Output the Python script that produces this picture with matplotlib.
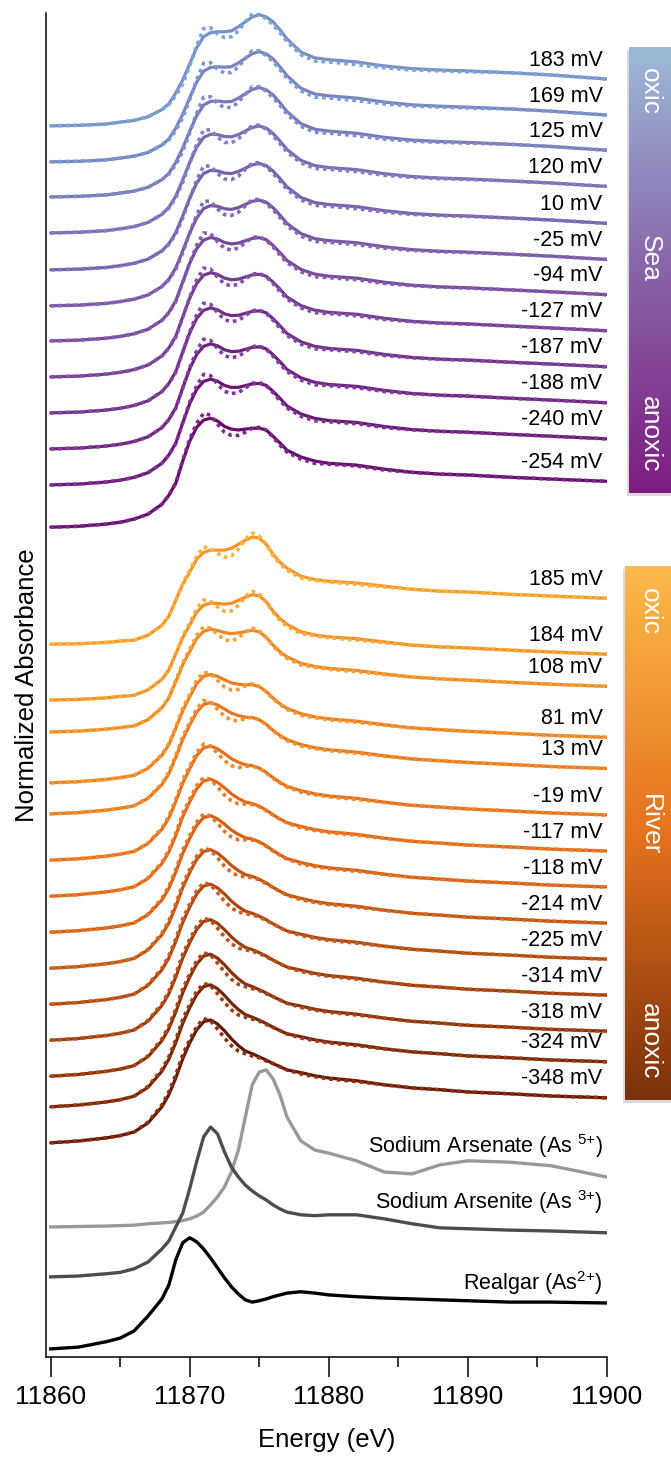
import numpy as np
import matplotlib
matplotlib.use('Agg')
import matplotlib.pyplot as plt
from matplotlib.colors import LinearSegmentedColormap
from matplotlib.patches import Rectangle

plt.rcParams['font.family'] = ['Liberation Sans', 'DejaVu Sans']
plt.rcParams['mathtext.default'] = 'regular'

# energy grid (eV)
energy = [11860, 11862, 11864, 11865, 11866, 11867, 11868, 11868.5, 11869, 11869.5,
          11870, 11870.5, 11871, 11871.5, 11872, 11872.5, 11873, 11873.5, 11874, 11874.5,
          11875, 11875.5, 11876, 11876.5, 11877, 11878, 11879, 11880, 11882, 11884,
          11886, 11888, 11890, 11893, 11896, 11900]

# sea end members (most oxic / most anoxic sample), data and LCF fit
sea_ox = [0, 0.01, 0.04, 0.08, 0.12, 0.20, 0.36, 0.49, 0.73, 1.02,
          1.38, 1.73, 1.98, 2.07, 2.09, 2.09, 2.11, 2.20, 2.31, 2.42,
          2.47, 2.42, 2.31, 2.13, 1.93, 1.64, 1.51, 1.47, 1.42, 1.33,
          1.27, 1.24, 1.22, 1.18, 1.13, 1.04]
sea_ox_fit = [0, 0.01, 0.04, 0.08, 0.12, 0.20, 0.36, 0.47, 0.67, 0.93,
              1.33, 1.78, 2.16, 2.18, 2.04, 1.96, 1.98, 2.11, 2.31, 2.49,
              2.49, 2.38, 2.24, 2.07, 1.87, 1.58, 1.44, 1.42, 1.36, 1.29,
              1.24, 1.22, 1.20, 1.18, 1.13, 1.04]
sea_red = [0, 0.02, 0.07, 0.11, 0.18, 0.29, 0.51, 0.71, 0.98, 1.47,
           1.91, 2.22, 2.38, 2.42, 2.36, 2.24, 2.18, 2.16, 2.18, 2.20,
           2.20, 2.16, 2.02, 1.87, 1.71, 1.56, 1.47, 1.42, 1.38, 1.29,
           1.22, 1.18, 1.16, 1.11, 1.07, 1.02]
sea_red_fit = [0, 0.02, 0.07, 0.11, 0.18, 0.29, 0.51, 0.71, 0.98, 1.49,
               1.96, 2.31, 2.53, 2.49, 2.29, 2.11, 2.04, 2.04, 2.11, 2.20,
               2.22, 2.16, 2.00, 1.82, 1.67, 1.51, 1.42, 1.40, 1.36, 1.27,
               1.22, 1.18, 1.16, 1.11, 1.07, 1.02]

# river end members
riv_ox = [0, 0.01, 0.04, 0.07, 0.09, 0.20, 0.42, 0.62, 0.98, 1.33,
          1.60, 1.89, 2.04, 2.09, 2.09, 2.09, 2.13, 2.22, 2.31, 2.38,
          2.36, 2.22, 2.00, 1.82, 1.69, 1.51, 1.44, 1.40, 1.36, 1.29,
          1.22, 1.18, 1.16, 1.11, 1.07, 1.02]
riv_ox_fit = [0, 0.01, 0.04, 0.07, 0.09, 0.20, 0.42, 0.62, 0.98, 1.36,
              1.64, 1.96, 2.16, 2.13, 2.02, 1.93, 1.96, 2.11, 2.33, 2.47,
              2.40, 2.22, 1.96, 1.78, 1.64, 1.47, 1.42, 1.38, 1.33, 1.27,
              1.22, 1.18, 1.16, 1.11, 1.07, 1.02]
riv_red = [0, 0.04, 0.11, 0.16, 0.24, 0.44, 0.80, 1.07, 1.44, 1.87,
           2.22, 2.51, 2.69, 2.73, 2.64, 2.49, 2.31, 2.16, 2.04, 1.98,
           1.91, 1.84, 1.76, 1.69, 1.62, 1.56, 1.49, 1.44, 1.38, 1.29,
           1.22, 1.18, 1.13, 1.09, 1.04, 1.00]
riv_red_fit = [0, 0.04, 0.11, 0.16, 0.24, 0.46, 0.84, 1.13, 1.51, 1.96,
               2.29, 2.58, 2.76, 2.71, 2.53, 2.33, 2.16, 2.04, 1.98, 1.93,
               1.89, 1.82, 1.76, 1.69, 1.62, 1.53, 1.47, 1.42, 1.36, 1.29,
               1.22, 1.18, 1.13, 1.09, 1.04, 1.00]

# reference standards
arsenate = [0, 0.01, 0.02, 0.03, 0.04, 0.07, 0.09, 0.10, 0.12, 0.14,
            0.18, 0.24, 0.33, 0.49, 0.67, 0.89, 1.22, 1.71, 2.44, 3.16,
            3.44, 3.49, 3.29, 2.93, 2.44, 1.91, 1.71, 1.64, 1.47, 1.22,
            1.18, 1.38, 1.47, 1.44, 1.36, 1.11]
arsenite = [0, 0.02, 0.07, 0.10, 0.18, 0.33, 0.62, 0.80, 1.11, 1.42,
            1.96, 2.56, 3.11, 3.33, 3.18, 2.78, 2.44, 2.22, 2.04, 1.91,
            1.80, 1.71, 1.60, 1.51, 1.44, 1.38, 1.36, 1.38, 1.38, 1.29,
            1.18, 1.09, 1.07, 1.04, 1.02, 0.98]
realgar = [0, 0.04, 0.16, 0.24, 0.40, 0.73, 1.11, 1.42, 1.98, 2.36,
           2.47, 2.38, 2.22, 2.02, 1.80, 1.58, 1.38, 1.22, 1.09, 1.04,
           1.07, 1.11, 1.16, 1.20, 1.24, 1.27, 1.24, 1.20, 1.16, 1.13,
           1.11, 1.09, 1.07, 1.04, 1.04, 1.02]

# samples: Eh labels and reduced fraction (0 = like most oxic, 1 = like most anoxic)
sea_eh = ['183 mV', '169 mV', '125 mV', '120 mV', '10 mV', '-25 mV', '-94 mV',
          '-127 mV', '-187 mV', '-188 mV', '-240 mV', '-254 mV']
sea_frac = [0, 0.08, 0.15, 0.35, 0.4, 0.45, 0.65, 0.7, 0.75, 0.75, 0.8, 1.0]
riv_eh = ['185 mV', '184 mV', '108 mV', '81 mV', '13 mV', '-19 mV', '-117 mV',
          '-118 mV', '-214 mV', '-225 mV', '-314 mV', '-318 mV', '-324 mV', '-348 mV']
riv_frac = [0, 0.1, 0.3, 0.5, 0.6, 0.7, 0.8, 0.78, 0.85, 0.9, 0.92, 0.97, 0.97, 1.0]

ref_names = ['Sodium Arsenate (As $^{5{+}}$)', 'Sodium Arsenite (As $^{3{+}}$)',
             'Realgar (As$^{2{+}}$)']

# vertical stacking offsets
sea_off = [27.36, 26.56, 25.78, 24.98, 24.16, 23.36, 22.58, 21.78, 20.98, 20.18, 19.38, 18.44]
riv_off = [15.84, 14.60, 13.89, 12.76, 12.07, 11.04, 10.24, 9.44, 8.64, 7.84, 7.04, 6.24, 5.56, 4.76]
ref_off = [2.89, 1.78, 0.18]

sea_cm = LinearSegmentedColormap.from_list('sea', ['#7b8fc5', '#7a4f9f', '#650a6a'])
sea_cm_fit = LinearSegmentedColormap.from_list('seaf', ['#78a6d6', '#8462b2', '#7b2a8c'])
riv_cm = LinearSegmentedColormap.from_list('riv', ['#f7962b', '#de6418', '#5a1b0a'])
riv_cm_fit = LinearSegmentedColormap.from_list('rivf', ['#fbb43c', '#ec7a24', '#922e0c'])
ref_colors = ['#999999', '#4d4d4d', '#000000']

E = np.array(energy)

fig = plt.figure(figsize=(6.71, 14.6), dpi=100)
W, H = 671.0, 1460.0
ax = fig.add_axes([45.7 / W, (H - 1357) / H, 561 / W, 1344 / H])


def draw_group(ox, ox_fit, red, red_fit, fracs, offs, labels, cm, cm_fit):
    n = len(fracs)
    for i in range(n):
        f = fracs[i]
        d = (1 - f) * np.array(ox) + f * np.array(red)
        ft = (1 - f) * np.array(ox_fit) + f * np.array(red_fit)
        t = i / (n - 1)
        ax.plot(E, offs[i] + d, color=cm(t), lw=2.3, solid_capstyle='round', zorder=2)
        ax.plot(E, offs[i] + ft, color=cm_fit(t), lw=2.6, linestyle=(0, (1, 1.1)),
                dash_capstyle='butt', zorder=3)
        ax.text(11899.7, offs[i] + d[-1] + 0.42, labels[i], ha='right', va='center',
                fontsize=15.5)


draw_group(sea_ox, sea_ox_fit, sea_red, sea_red_fit, sea_frac, sea_off, sea_eh, sea_cm, sea_cm_fit)
draw_group(riv_ox, riv_ox_fit, riv_red, riv_red_fit, riv_frac, riv_off, riv_eh, riv_cm, riv_cm_fit)

refs = [arsenate, arsenite, realgar]
ref_lab_dy = [0.69, 0.69, 0.44]
for i, r in enumerate(refs):
    ax.plot(E, ref_off[i] + np.array(r), color=ref_colors[i], lw=2.4, zorder=2)
    ax.text(11899.7, ref_off[i] + r[-1] + ref_lab_dy[i], ref_names[i], ha='right',
            va='center', fontsize=15.5)

ax.set_xlim(11859.64, 11900)
ax.set_ylim(0, 1344 / 45.0)
ax.spines['top'].set_visible(False)
ax.spines['right'].set_visible(False)
ax.spines['left'].set_linewidth(1.1)
ax.spines['bottom'].set_linewidth(1.1)
ax.spines['bottom'].set_bounds(11859.64, 11900)
ax.set_yticks([])
ax.set_xticks([11860, 11870, 11880, 11890, 11900])
ax.set_xticks([11865, 11875, 11885, 11895], minor=True)
ax.tick_params(axis='x', which='major', length=14.4, width=1.1, labelsize=19, pad=6)
ax.tick_params(axis='x', which='minor', length=7.2, width=1.1)
ax.set_xlabel('Energy (eV)', fontsize=18.5)
ax.xaxis.set_label_coords(0.5, -0.053)
ax.set_ylabel('Normalized Absorbance', fontsize=18.5)
ax.yaxis.set_label_coords(-0.012, 0.5)


def color_bar(x0, y0, x1, y1, colors, words, word_y):
    # soft shadow behind the bar
    shadow = Rectangle(((x0 - 2) / W, (H - y1 - 3) / H), (x1 - x0) / W, (y1 - y0) / H,
                       transform=fig.transFigure, facecolor='#000000', alpha=0.15,
                       lw=0, zorder=1)
    fig.add_artist(shadow)
    bax = fig.add_axes([x0 / W, (H - y1) / H, (x1 - x0) / W, (y1 - y0) / H])
    bax.set_zorder(5)
    cm = LinearSegmentedColormap.from_list('bar', colors)
    grad = np.linspace(0, 1, 256).reshape(-1, 1)
    bax.imshow(grad, aspect='auto', cmap=cm, extent=[0, 1, y1, y0], interpolation='bilinear')
    bax.set_xlim(0, 1)
    bax.set_ylim(y1, y0)
    bax.axis('off')
    for w, yy in zip(words, word_y):
        bax.text((650 - x0) / (x1 - x0), yy, w, rotation=270, color='white', fontsize=19,
                 ha='center', va='center')


color_bar(629, 47, 680, 493, ['#9dbad8', '#8864a8', '#7d1c80'], ['oxic', 'Sea', 'anoxic'],
          [92, 258, 434])
color_bar(625, 566, 680, 1100, ['#fcba4c', '#e6721e', '#7a300a'], ['oxic', 'River', 'anoxic'],
          [612, 825, 1041])

fig.savefig('out.png', dpi=100)
